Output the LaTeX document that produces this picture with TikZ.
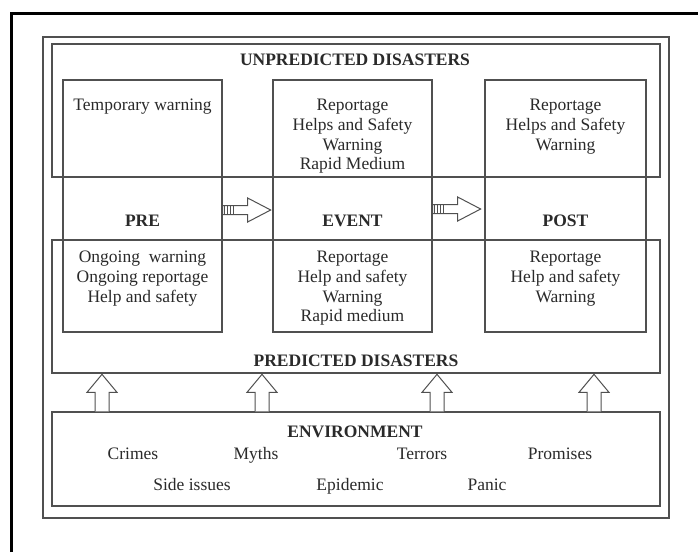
\documentclass[tikz,border=0pt]{standalone}
\usepackage{fontspec}
\setmainfont{Liberation Serif}
\usetikzlibrary{fit}
\definecolor{linegray}{HTML}{505050}
\definecolor{textgray}{HTML}{2A2A2A}
\begin{document}
\begin{tikzpicture}[x=1pt,y=-1pt,
  box/.style={draw=linegray, line width=1.3pt, inner sep=0pt},
  txt/.style={text=textgray, font=\fontsize{17.5}{19.7}\selectfont, align=center, inner sep=0pt},
  ttl/.style={text=textgray, font=\fontsize{17.5}{19.7}\selectfont\bfseries, align=center, inner sep=0pt},
  blockarrow/.style={draw=linegray, line width=1pt, fill=white, line join=miter},
  stripe/.style={draw=linegray, line width=0.9pt}]
\useasboundingbox (0,0) rectangle (698,552);
\fill[white] (0,0) rectangle (698,552);
\draw[line width=3pt, black] (11.5,552) -- (11.5,13.5) -- (698,13.5);
% boxes
\node[box, fit={(43,37) (669,518)}] (outer) {};
\node[box, fit={(52,44) (660,177)}] (unpred) {};
\node[box, fit={(52,240) (660,373)}] (pred) {};
\node[box, fit={(52,412) (660,506)}] (env) {};
\node[box, fit={(63,80) (222,332)}] (pre) {};
\node[box, fit={(273,80) (432,332)}] (event) {};
\node[box, fit={(485,80) (646,332)}] (post) {};
% titles
\node[ttl] (tu) at (355,60) {UNPREDICTED DISASTERS};
\node[ttl] (tp) at (356,361) {PREDICTED DISASTERS};
\node[ttl] (te) at (355,432) {ENVIRONMENT};
\node[ttl] (lpre) at (142.5,221) {PRE};
\node[ttl] (levent) at (352.5,221) {EVENT};
\node[ttl] (lpost) at (565.5,221) {POST};
% upper texts
\node[txt, anchor=north] (pu) at (142.5,99) {Temporary warning};
\node[txt, anchor=north] (eu) at (352.5,99) {Reportage\\Helps and Safety\\Warning\\Rapid Medium};
\node[txt, anchor=north] (ou) at (565.5,99) {Reportage\\Helps and Safety\\Warning};
% lower texts
\node[txt, anchor=north] (pl) at (142.5,251) {Ongoing\ \ warning\\Ongoing reportage\\Help and safety};
\node[txt, anchor=north] (el) at (352.5,251) {Reportage\\Help and safety\\Warning\\Rapid medium};
\node[txt, anchor=north] (ol) at (565.5,251) {Reportage\\Help and safety\\Warning};
% environment items
\node[txt, anchor=base] (crimes) at (133,459) {Crimes};
\node[txt, anchor=base] (myths) at (256,459) {Myths};
\node[txt, anchor=base] (terrors) at (422,459) {Terrors};
\node[txt, anchor=base] (promises) at (560,459) {Promises};
\node[txt, anchor=base] (side) at (192,490) {Side issues};
\node[txt, anchor=base] (epid) at (350,490) {Epidemic};
\node[txt, anchor=base] (panic) at (487,490) {Panic};
% right arrows
\coordinate (a1) at (pre.east |- 0,210);
\coordinate (a2) at (event.east |- 0,209);
\foreach \a in {a1,a2}{
  \draw[blockarrow] (\a) ++(0,-4.5) -- ++(25,0) -- ++(0,-7.5) -- ++(23,12) -- ++(-23,12) -- ++(0,-7.5) -- ++(-25,0) -- cycle;
  \foreach \dx in {1.5,4.5,7.5,10.5}{
    \draw[stripe] (\a) ++(\dx,-4.5) -- ++(0,9);
  }
}
% up arrows
\foreach \n/\ux in {u1/102,u2/262,u3/437,u4/594}{
  \coordinate (\n) at (\ux,0 |- env.north);
  \draw[blockarrow] (\n) ++(-7,0) -- ++(0,-19) -- ++(-8,0) -- ++(15,-18) -- ++(15,18) -- ++(-8,0) -- ++(0,19);
}
\end{tikzpicture}
\end{document}
